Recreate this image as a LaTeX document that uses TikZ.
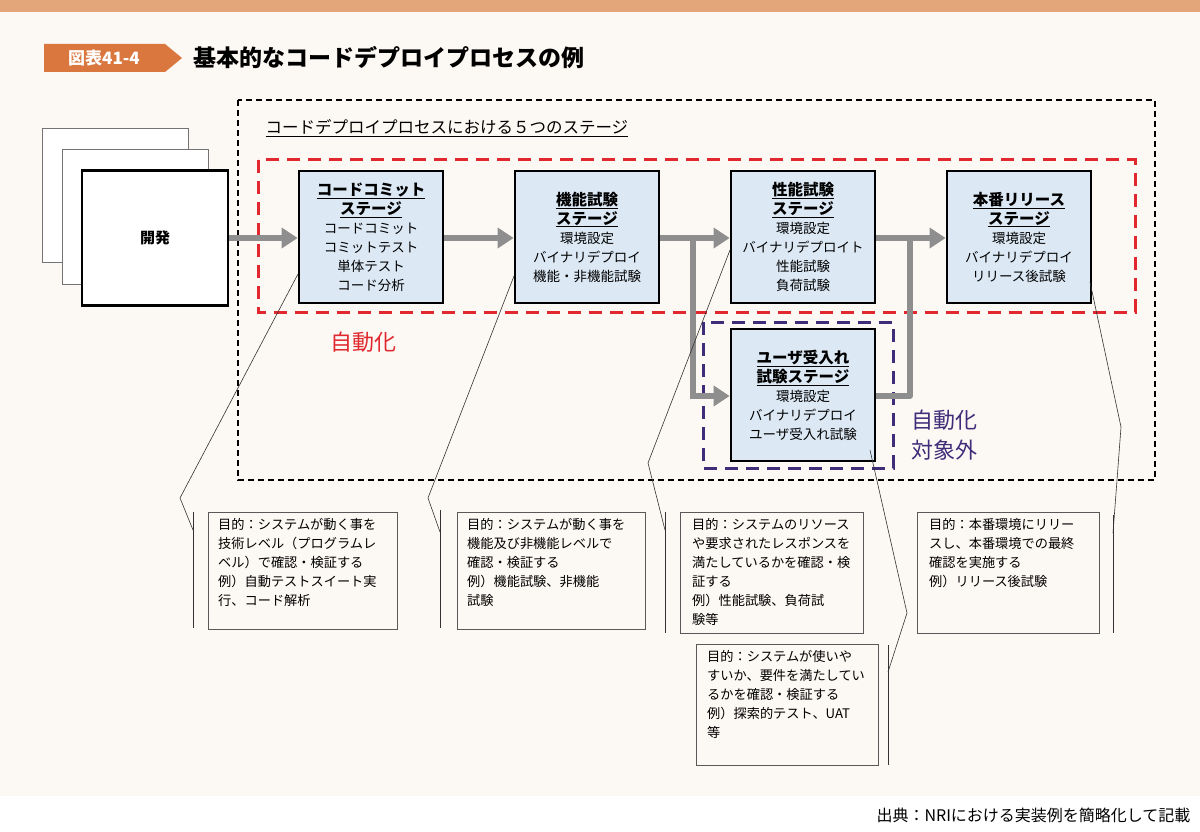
\documentclass[tikz,border=0pt]{standalone}
\usepackage{fontspec}
\setmainfont{Noto Sans CJK JP}
\usetikzlibrary{arrows.meta}
\definecolor{bg}{HTML}{FCF8F3}
\definecolor{topbar}{HTML}{E3A57A}
\definecolor{lab}{HTML}{D9773E}
\definecolor{stage}{HTML}{DCE9F5}
\definecolor{arr}{HTML}{8E8E8E}
\definecolor{red}{HTML}{E0282E}
\definecolor{purp}{HTML}{3F2D7A}
\begin{document}
\begin{tikzpicture}[x=1pt,y=-1pt,
  stg/.style={draw=black,line width=2.8pt,fill=stage,minimum width=144pt,minimum height=132pt,align=center,font=\fontsize{13.5}{19}\selectfont,inner sep=0pt},
  desc/.style={draw=black!65,line width=0.7pt,fill=bg,anchor=north west,inner sep=0pt},
  dtext/.style={anchor=north west,align=left,font=\fontsize{13.2}{19}\selectfont,inner sep=0pt},
  flow/.style={draw=arr,line width=6pt,-{Triangle[length=16pt,width=20pt]}},
  flowl/.style={draw=arr,line width=6pt},
  call/.style={draw=black!80,line width=0.6pt},
  sheet/.style={draw=black!55,line width=0.8pt,fill=white}]
\useasboundingbox (0,0) rectangle (1200,832);
\fill[white] (0,0) rectangle (1200,832);
\fill[bg] (0,12) rectangle (1200,796);
\fill[topbar] (0,0) rectangle (1200,12);
% title
\fill[lab] (44,44) -- (165,44) -- (182,58) -- (165,72) -- (44,72) -- cycle;
\node[text=white,font=\bfseries\fontsize{17}{17}\selectfont,anchor=center] (lbl) at (104,58) {図表41-4};
\node[font=\bfseries\fontsize{23}{23}\selectfont,anchor=west] (ttl) at (190,58) {基本的なコードデプロイプロセスの例};
% frames
\draw[black,line width=2pt,dash pattern=on 6pt off 4pt] (238,100) rectangle (1155,480);
\node[anchor=west,font=\fontsize{16.5}{16.5}\selectfont] (sub) at (262,128) {\underline{コードデプロイプロセスにおける５つのステージ}};
\draw[red,line width=3pt,dash pattern=on 13pt off 8pt] (258,160) rectangle (1135,312);
\draw[purp,line width=3pt,dash pattern=on 13pt off 8pt] (703,322) rectangle (893,468);
\node[text=red,font=\fontsize{22}{22}\selectfont] (auto) at (363,342) {自動化};
\node[text=purp,font=\fontsize{22}{30}\selectfont,align=left,anchor=west] (noauto) at (908,435) {自動化\\対象外};
% dev sheets
\draw[sheet] (42,128) rectangle (188,262);
\draw[sheet] (62,149) rectangle (208,284);
\node[draw=black,line width=2.8pt,fill=white,minimum width=146pt,minimum height=135pt,font=\bfseries\fontsize{15}{15}\selectfont] (dev) at (155,238) {開発};
% stages
\node[stg] (s1) at (371,237) {\textbf{\fontsize{15.5}{19}\selectfont\underline{コードコミット}}\\\textbf{\fontsize{15.5}{19}\selectfont\underline{ステージ}}\\コードコミット\\コミットテスト\\単体テスト\\コード分析};
\node[stg] (s2) at (587,237) {\textbf{\fontsize{15.5}{19}\selectfont\underline{機能試験}}\\\textbf{\fontsize{15.5}{19}\selectfont\underline{ステージ}}\\環境設定\\バイナリデプロイ\\機能・非機能試験};
\node[stg] (s3) at (803,237) {\textbf{\fontsize{15.5}{19}\selectfont\underline{性能試験}}\\\textbf{\fontsize{15.5}{19}\selectfont\underline{ステージ}}\\環境設定\\バイナリデプロイト\\性能試験\\負荷試験};
\node[stg] (s4) at (1019,237) {\textbf{\fontsize{15.5}{19}\selectfont\underline{本番リリース}}\\\textbf{\fontsize{15.5}{19}\selectfont\underline{ステージ}}\\環境設定\\バイナリデプロイ\\リリース後試験};
\node[stg] (s5) at (803,395) {\textbf{\fontsize{15.5}{19}\selectfont\underline{ユーザ受入れ}}\\\textbf{\fontsize{15.5}{19}\selectfont\underline{試験ステージ}}\\環境設定\\バイナリデプロイ\\ユーザ受入れ試験};
% arrows
\coordinate (b1) at (693,238);
\coordinate (b2) at (693,396);
\coordinate (m1) at (910,396);
\coordinate (m2) at (910,238);
\draw[flow] (dev.east|-0,238) -- (s1.west|-0,238);
\draw[flow] (s1.east|-0,238) -- (s2.west|-0,238);
\draw[flow] (s2.east|-0,238) -- (s3.west|-0,238);
\draw[flowl,line join=round] (b1) -- (b2);
\draw[flow] (690,396) -- (s5.west|-0,396);
\draw[flowl,line join=round] (s5.east|-0,396) -- (m1) -- (m2);
\draw[flow] (s3.east|-0,238) -- (s4.west|-0,238);
% description boxes
\node[desc,minimum width=189pt,minimum height=117pt] (d1) at (208,512) {};
\node[dtext] (t1) at (218,518) {目的：システムが動く事を\\技術レベル（プログラムレ\\ベル）で確認・検証する\\例）自動テストスイート実\\行、コード解析};
\node[desc,minimum width=188pt,minimum height=117pt] (d2) at (457,512) {};
\node[dtext] (t2) at (467,518) {目的：システムが動く事を\\機能及び非機能レベルで\\確認・検証する\\例）機能試験、非機能\\試験};
\node[desc,minimum width=183pt,minimum height=121pt] (d3) at (680,512) {};
\node[dtext] (t3) at (692,518) {目的：システムのリソース\\や要求されたレスポンスを\\満たしているかを確認・検\\証する\\例）性能試験、負荷試\\験等};
\node[desc,minimum width=182pt,minimum height=121pt] (d4) at (696,644) {};
\node[dtext] (t4) at (707,650) {目的：システムが使いや\\すいか、要件を満たしてい\\るかを確認・検証する\\例）探索的テスト、UAT\\等};
\node[desc,minimum width=182pt,minimum height=121pt] (d5) at (917,512) {};
\node[dtext] (t5) at (929,518) {目的：本番環境にリリー\\スし、本番環境での最終\\確認を実施する\\例）リリース後試験};
% callouts
\coordinate (c1a) at (298,274); \coordinate (c1b) at (180,498); \coordinate (c1c) at (193,530);
\draw[call] (c1a) -- (c1b) -- (c1c);
\draw[call] (193,512) -- (193,628);
\coordinate (c2a) at (514,276); \coordinate (c2b) at (428,498); \coordinate (c2c) at (440,532);
\draw[call] (c2a) -- (c2b) -- (c2c);
\draw[call] (440,510) -- (440,628);
\coordinate (c3a) at (730,250); \coordinate (c3b) at (648,463); \coordinate (c3c) at (665,530);
\draw[call] (c3a) -- (c3b) -- (c3c);
\draw[call] (665,512) -- (665,633);
\coordinate (c4a) at (870,450); \coordinate (c4b) at (907,613); \coordinate (c4c) at (888,672);
\draw[call] (c4a) -- (c4b) -- (c4c);
\draw[call] (888,645) -- (888,765);
\coordinate (c5a) at (1090,282); \coordinate (c5b) at (1121,427); \coordinate (c5c) at (1113,533);
\draw[call] (c5a) -- (c5b) -- (c5c);
\draw[call] (1113,515) -- (1113,633);
% source
\node[anchor=east,font=\fontsize{16}{16}\selectfont] (src) at (1194,815) {出典：NRIにおける実装例を簡略化して記載};
\end{tikzpicture}
\end{document}
